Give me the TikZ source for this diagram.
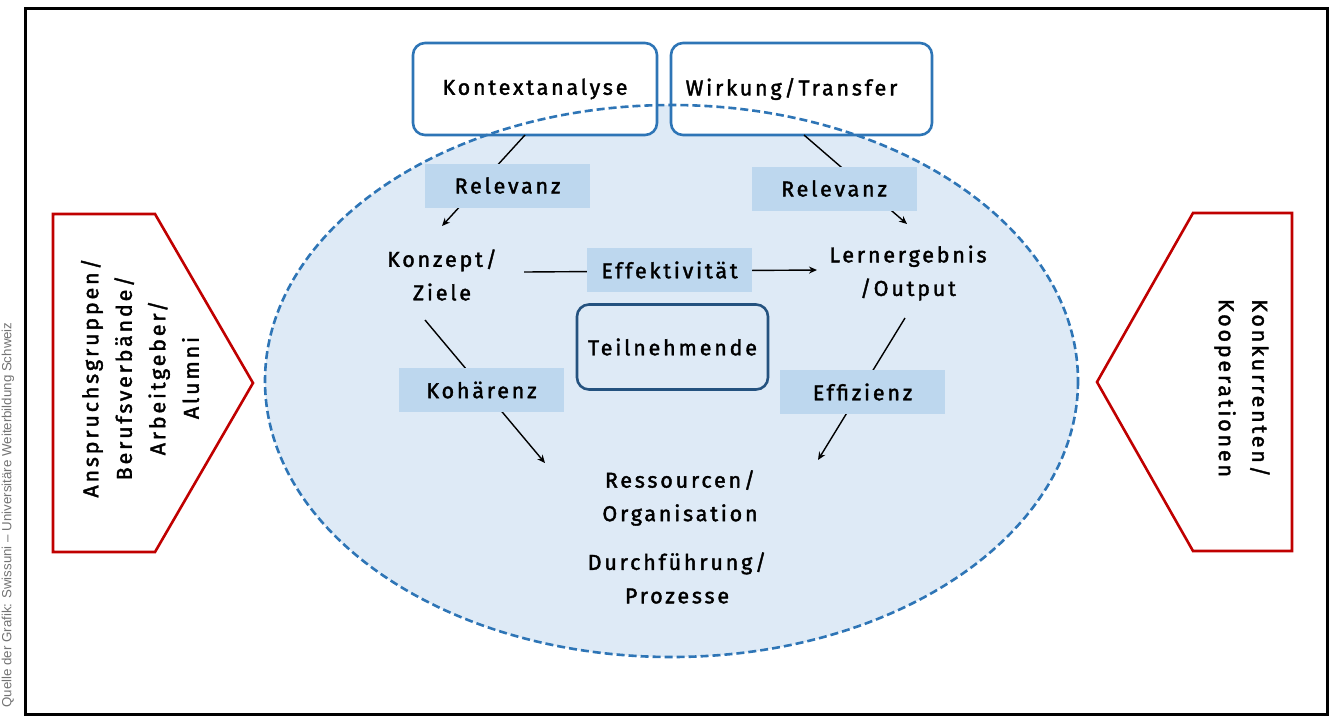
\documentclass[tikz,border=0pt]{standalone}
\usepackage{fontspec}
\setmainfont{Fira Sans}[LetterSpace=13, FakeBold=1.8]
\newfontfamily\srcfont{Liberation Sans}
\usetikzlibrary{arrows.meta}
\definecolor{ellfill}{HTML}{DEEAF6}
\definecolor{ellline}{HTML}{2E75B6}
\definecolor{lblfill}{HTML}{BDD7EE}
\definecolor{boxline}{HTML}{2E75B6}
\definecolor{tnline}{HTML}{24527F}
\definecolor{redline}{HTML}{C00000}
\tikzset{
  txt/.style={font=\fontsize{21.5}{33.5}\selectfont, align=center, inner sep=0pt},
  topbox/.style={draw=boxline, line width=2.6pt, fill=white, rounded corners=12pt, minimum width=#1, minimum height=92pt, txt},
  lbl/.style={fill=lblfill, minimum width=165pt, minimum height=44pt, txt},
  conn/.style={line width=1.4pt, -{Stealth[length=8pt,width=7pt]}},
  pent/.style={draw=redline, line width=2.6pt, fill=white, line join=miter},
}
\begin{document}
\begin{tikzpicture}[x=1pt,y=-1pt]
\useasboundingbox (0,0) rectangle (1330,716);
% frame
\draw[line width=3pt] (25,8) rectangle (1327,714);
% source
\node[rotate=90, text=black!55, font=\srcfont\fontsize{13.3}{15}\selectfont, inner sep=0pt] (src) at (8,515) {Quelle der Grafik: Swissuni – Universitäre Weiterbildung Schweiz};
% ellipse fill
\fill[ellfill] (671.5,381) ellipse [x radius=406.5, y radius=276];
% pentagons
\draw[pent] (53,214) -- (155,214) -- (253,383) -- (155,552) -- (53,552) -- cycle;
\draw[pent] (1292,213) -- (1193,213) -- (1097,382) -- (1193,551) -- (1292,551) -- cycle;
\node[txt, rotate=90] (anspruch) at (140,378) {Anspruchsgruppen/\\Berufsverbände/\\Arbeitgeber/\\Alumni};
\node[txt, rotate=-90] (konk) at (1242,388) {Konkurrenten/\\Kooperationen};
% top boxes
\node[topbox=244pt] (kontext) at (535,89) {Kontextanalyse};
\node[topbox=261pt] (wirkung) at (801.5,89) {\hspace*{-20pt}Wirkung/Transfer};
% ellipse outline over the boxes
\draw[ellline, line width=2.6pt, dash pattern=on 8pt off 4pt] (671.5,381) ellipse [x radius=406.5, y radius=276];
% texts
\node[txt] (konzept) at (442,275) {Konzept/\\Ziele};
\node[txt] (lern) at (908,273) {Lernergebnis\\/Output};
\node[txt] (ress) at (680,498) {Ressourcen/\\Organisation};
\node[txt] (durch) at (677,578) {Durchführung/\\Prozesse};
\node[draw=tnline, line width=2.6pt, rounded corners=12pt, minimum width=191pt, minimum height=85pt, txt] (teiln) at (672.5,347) {Teilnehmende};
% connector coordinates
\coordinate (a1) at (525,135);
\coordinate (a2) at (442,226);
\coordinate (b1) at (804,135);
\coordinate (b2) at (907,224);
\coordinate (c1) at (524,272);
\coordinate (c2) at (817,270);
\coordinate (d1) at (425,320);
\coordinate (d2) at (545,463);
\coordinate (e1) at (905,318);
\coordinate (e2) at (818,460);
\draw[conn] (a1) -- (a2);
\draw[conn] (b1) -- (b2);
\draw[conn] (c1) -- (c2);
\draw[conn] (d1) -- (d2);
\draw[conn] (e1) -- (e2);
% labels
\node[lbl] (rel1) at (507.5,185.5) {Relevanz};
\node[lbl] (rel2) at (834,188.5) {Relevanz};
\node[lbl] (eff) at (669.5,270) {Effektivität};
\node[lbl] (koh) at (481.5,390) {Kohärenz};
\node[lbl] (effz) at (862.5,392) {Effizienz};
\end{tikzpicture}
\end{document}
